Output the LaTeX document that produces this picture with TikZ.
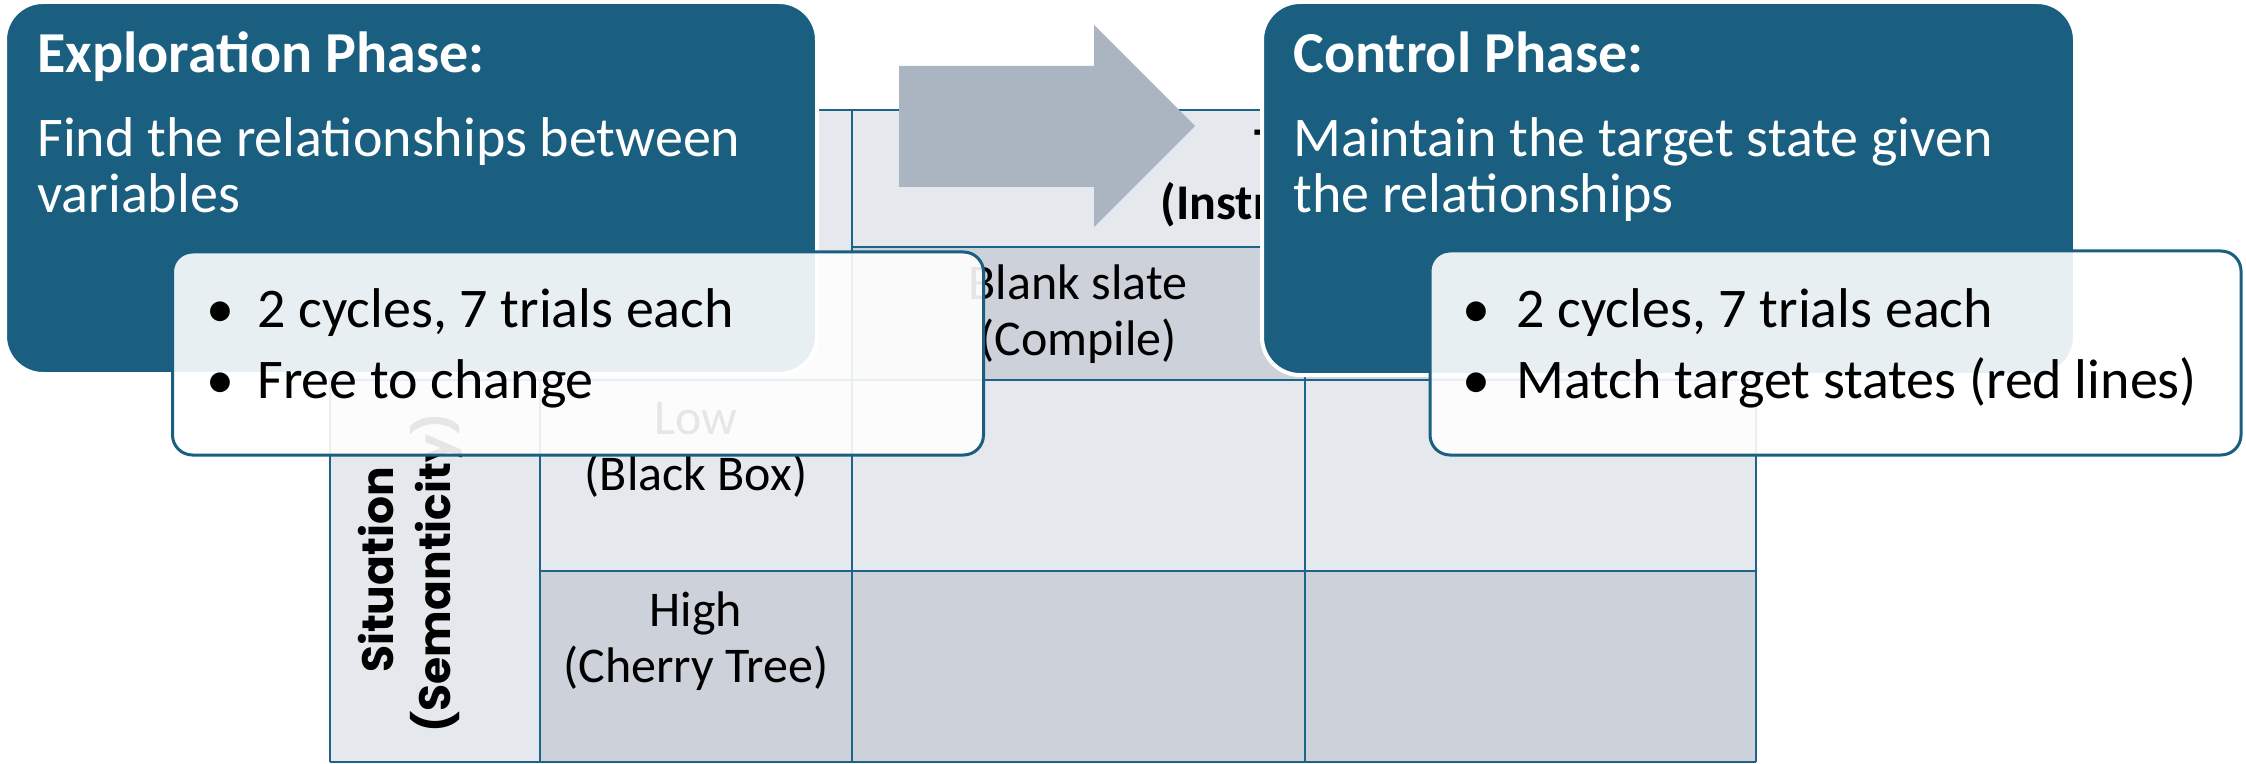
\documentclass[tikz,border=0pt]{standalone}
\usepackage{fontspec}
\setmainfont{Carlito}
\newfontfamily\sitfont{Poppins}
\definecolor{dblue}{HTML}{1A5F80}
\definecolor{tline}{HTML}{1D6488}
\definecolor{cellA}{HTML}{E5E8EC}
\definecolor{cellB}{HTML}{CDD2DA}
\definecolor{arrowc}{HTML}{AAB5C1}
\tikzset{
  phasebox/.style={draw=white, line width=2pt, fill=dblue, rounded corners=19pt, inner sep=0pt},
  bulbox/.style={draw=dblue, line width=1.5pt, fill=white, fill opacity=0.9, draw opacity=1, rounded corners=10pt, inner sep=0pt},
  ttl/.style={font=\fontsize{29}{34}\selectfont\bfseries, text=white, anchor=base west, inner sep=0pt},
  bodyw/.style={font=\fontsize{28}{34}\selectfont, text=white, anchor=base west, inner sep=0pt},
  bul/.style={font=\fontsize{28}{34}\selectfont, text=black, anchor=base west, inner sep=0pt},
  dot/.style={font=\fontsize{28}{34}\selectfont, text=black, anchor=base, inner sep=0pt},
  cell/.style={font=\fontsize{25}{30}\selectfont, text=black, anchor=base, inner sep=0pt},
  hdr/.style={font=\fontsize{25}{30}\selectfont\bfseries, text=black, anchor=base, inner sep=0pt},
  sit/.style={font=\sitfont\bfseries\fontsize{22}{26}\selectfont, text=black, anchor=base, rotate=90, inner sep=0pt},
  grid/.style={draw=tline, line width=1.25pt}
}
\begin{document}
\begin{tikzpicture}[x=0.5pt,y=-0.5pt]
\useasboundingbox (0,0) rectangle (2246,764);
% ---- table cells
\fill[cellA] (330,110) rectangle (1756,247);
\fill[cellA] (330,247) rectangle (852,380);
\fill[cellB] (852,247) rectangle (1756,380);
\fill[cellA] (330,380) rectangle (1756,571);
\fill[cellA] (330,571) rectangle (540,762);
\fill[cellB] (540,571) rectangle (1756,762);
% ---- table lines
\draw[grid] (330,110) -- (1756,110);
\draw[grid] (852,247) -- (1756,247);
\draw[grid] (330,380) -- (1756,380);
\draw[grid] (540,571) -- (1756,571);
\draw[grid] (330,762) -- (1756,762);
\draw[grid] (330,110) -- (330,762);
\draw[grid] (540,380) -- (540,762);
\draw[grid] (852,110) -- (852,762);
\draw[grid] (1305,247) -- (1305,762);
\draw[grid] (1756,110) -- (1756,762);
% ---- table texts
\node[hdr] (task1) at (1299,163) {Task};
\node[hdr] (task2) at (1299,220) {(Instructions)};
\node[cell] (blank1) at (1078,300) {Blank slate};
\node[cell] (blank2) at (1078,356) {(Compile)};
\node[cell] (low1) at (696,434) {Low};
\node[cell] (low2) at (696,490) {(Black Box)};
\node[cell] (high1) at (696,626) {High};
\node[cell] (high2) at (696,682) {(Cherry Tree)};
\node[sit] (sit1) at (393,570) {Situation};
\node[sit] (sit2) at (450,573) {(Semanticity)};
% ---- arrow
\fill[arrowc] (899,66) -- (1094,66) -- (1094,25) -- (1195,126) -- (1094,227) -- (1094,187) -- (899,187) -- cycle;
% ---- exploration phase
\node[phasebox, minimum width=406pt, minimum height=186pt] (expbox) at (411,188) {};
\node[ttl] (exptitle) at (37,73) {Exploration Phase:};
\node[bodyw] (exptxt1) at (37,157) {Find the relationships between};
\node[bodyw] (exptxt2) at (37,213) {variables};
\node[bulbox, minimum width=405.5pt, minimum height=101.5pt] (expbul) at (578,353.5) {};
\node[dot] (expdot1) at (220,328) {•};
\node[bul] (expb1) at (257,328) {2 cycles, 7 trials each};
\node[dot] (expdot2) at (220,398) {•};
\node[bul] (expb2) at (257,398) {Free to change};
% ---- control phase
\node[phasebox, minimum width=406.5pt, minimum height=186.5pt] (ctrlbox) at (1668.5,188.5) {};
\node[ttl] (ctrltitle) at (1293,73) {Control Phase:};
\node[bodyw] (ctrltxt1) at (1293,157) {Maintain the target state given};
\node[bodyw] (ctrltxt2) at (1293,213) {the relationships};
\node[bulbox, minimum width=405.5pt, minimum height=102pt] (ctrlbul) at (1835.5,353) {};
\node[dot] (ctrldot1) at (1476,328) {•};
\node[bul] (ctrlb1) at (1516,328) {2 cycles, 7 trials each};
\node[dot] (ctrldot2) at (1476,398) {•};
\node[bul] (ctrlb2) at (1516,398) {Match target states (red lines)};
\end{tikzpicture}
\end{document}
